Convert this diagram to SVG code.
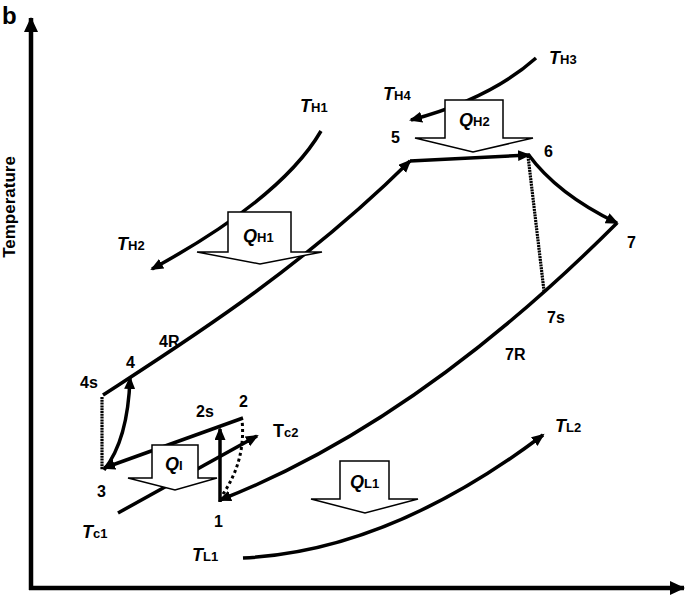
<svg xmlns="http://www.w3.org/2000/svg" width="685" height="598" viewBox="0 0 685 598">
<style>
text{font-family:"Liberation Sans",Arial,sans-serif;font-weight:bold;fill:#000}
.n{font-size:16px}
.t{font-size:18px;font-style:italic}
.s{font-size:13px;font-style:normal}
.c{fill:none;stroke:#000;stroke-width:3.5}
.dot{fill:none;stroke:#000;stroke-width:3.2;stroke-dasharray:2 0.8}
.dash{fill:none;stroke:#000;stroke-width:3;stroke-dasharray:3 3}
.box{fill:#fff;stroke:#000;stroke-width:1.5;stroke-linejoin:miter}
</style>
<defs>
<marker id="ah" markerUnits="userSpaceOnUse" markerWidth="14" markerHeight="12" refX="11" refY="5.5" orient="auto">
<path d="M0,0 L13,5.5 L0,11 z" fill="#000"/>
</marker>
<marker id="ax" markerUnits="userSpaceOnUse" markerWidth="16" markerHeight="14" refX="14" refY="7" orient="auto">
<path d="M0,0 L15,7 L0,14 z" fill="#000"/>
</marker>
</defs>
<text x="2" y="24" style="font-size:24px">b</text>
<g id="axes">
<line x1="31" y1="590" x2="31" y2="18" stroke="#000" stroke-width="4.5" marker-end="url(#ax)"/>
<line x1="29" y1="588" x2="684" y2="588" stroke="#000" stroke-width="4.5" marker-end="url(#ax)"/>
<text transform="translate(15,207) rotate(-90)" text-anchor="middle" style="font-size:17px">Temperature</text>
</g>
<g id="connectors">
<path class="c" d="M321,131 Q282,198 152,269" marker-end="url(#ah)"/>
<path class="c" d="M536,58 Q490,99 411,120" marker-end="url(#ah)"/>
<path class="c" d="M103,395 C180,345 300,270 410,161" marker-end="url(#ah)"/>
<path class="c" d="M410,161 L529,155" marker-end="url(#ah)"/>
<path class="c" d="M528,154 Q557,194 617,223" marker-end="url(#ah)"/>
<path class="dot" d="M528,156 L544,291"/>
<path class="c" d="M617,223 Q417,423 220,500" marker-end="url(#ah)"/>
<path class="c" d="M220,502 L220,429" marker-end="url(#ah)"/>
<path class="dash" d="M223,494 Q246,460 242,420"/>
<path class="c" d="M243,418 L104,468" marker-end="url(#ah)"/>
<path class="dot" d="M102,397 L102,470"/>
<path class="c" d="M104,470 Q128,440 130,378" marker-end="url(#ah)"/>
<path class="c" d="M118,513 L257,436" marker-end="url(#ah)"/>
<path class="c" d="M243,558 Q389,551 543,435" marker-end="url(#ah)"/>
</g>
<g id="QH1">
<polygon class="box" points="228,212 291,212 291,252 322,252 260,264 197,252 228,252"/>
<text class="t" x="243" y="242">Q<tspan class="s">H1</tspan></text>
</g>
<g id="QH2">
<polygon class="box" points="445,100 503,100 503,138 533,138 473,152 415,138 445,138"/>
<text class="t" x="459" y="126">Q<tspan class="s">H2</tspan></text>
</g>
<g id="QI">
<polygon class="box" points="152,445 198,445 198,478 217,478 175,490 128,478 152,478"/>
<text class="t" x="165" y="470">Q<tspan class="s">I</tspan></text>
</g>
<g id="QL1">
<polygon class="box" points="340,461 389,461 389,499 418,499 365,513 311,499 340,499"/>
<text class="t" x="350" y="488">Q<tspan class="s">L1</tspan></text>
</g>
<g id="labels">
<text class="t" x="300" y="112">T<tspan class="s">H1</tspan></text>
<text class="t" x="117" y="250">T<tspan class="s">H2</tspan></text>
<text class="t" x="549" y="64">T<tspan class="s">H3</tspan></text>
<text class="t" x="383" y="100">T<tspan class="s">H4</tspan></text>
<text class="t" x="82" y="538">T<tspan class="s">c1</tspan></text>
<text x="273" y="437" style="font-size:18px">T<tspan class="s">c2</tspan></text>
<text class="t" x="192" y="561">T<tspan class="s">L1</tspan></text>
<text class="t" x="555" y="432">T<tspan class="s">L2</tspan></text>
<text class="n" x="391" y="143">5</text>
<text class="n" x="544" y="157">6</text>
<text class="n" x="627" y="248">7</text>
<text class="n" x="547" y="323">7s</text>
<text class="n" x="505" y="360">7R</text>
<text class="n" x="159" y="347">4R</text>
<text class="n" x="126" y="368">4</text>
<text class="n" x="80" y="388">4s</text>
<text class="n" x="196" y="417">2s</text>
<text class="n" x="239" y="407">2</text>
<text class="n" x="97" y="497">3</text>
<text class="n" x="214" y="527">1</text>
</g>
</svg>
